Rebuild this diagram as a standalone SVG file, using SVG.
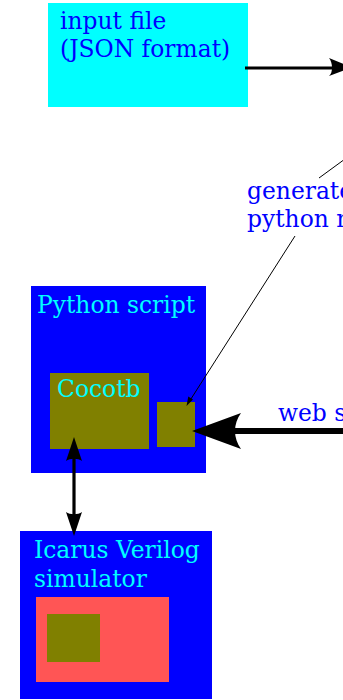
<svg xmlns="http://www.w3.org/2000/svg" width="343" height="700" viewBox="0 0 343 700">
<style>
text{font-family:"DejaVu Serif",serif;font-size:23.4px}
.lbl{fill:#0000ff}
.in{fill:#00ffff}
.ol{fill:#808000}
.conn{stroke:#000;fill:none}
</style>
<rect width="343" height="700" fill="#fff"/>
<g id="input">
<rect x="48" y="3" width="200" height="104" fill="#00ffff"/>
<text class="lbl" x="60" y="29">input file</text>
<text class="lbl" x="60" y="57">(JSON format)</text>
</g>
<g id="generated">
<text class="lbl" x="247" y="199">generated</text>
<text class="lbl" x="247" y="227">python module</text>
</g>
<g id="python">
<rect x="31" y="286" width="175" height="187" fill="#0000ff"/>
<text class="in" x="37" y="313">Python script</text>
</g>
<g id="cocotb">
<rect class="ol" x="50" y="373" width="99" height="76"/>
<text class="in" x="57" y="397">Cocotb</text>
</g>
<g id="module">
<rect class="ol" x="157" y="402" width="38" height="45"/>
</g>
<g id="websocket">
<text class="lbl" x="278" y="421">web socket</text>
</g>
<g id="icarus">
<rect x="20" y="531" width="192" height="168" fill="#0000ff"/>
<text class="in" x="34" y="558">Icarus Verilog</text>
<text class="in" x="34" y="587">simulator</text>
<rect x="36" y="597" width="133" height="85" fill="#ff5555"/>
<rect class="ol" x="47" y="614" width="53" height="48"/>
</g>
<g id="connectors">
<line class="conn" x1="245" y1="68" x2="333" y2="68" stroke-width="3.2"/>
<path d="M329,58 C333,63 333,73 329,76 L352,67.5 Z" fill="#000"/>
<line class="conn" x1="319" y1="178" x2="345" y2="159" stroke-width="1"/>
<line class="conn" x1="295" y1="236" x2="189" y2="402" stroke-width="1"/>
<path d="M186.5,406 L188.3,396.5 L193,399.5 Z" fill="#000"/>
<line class="conn" x1="343" y1="431" x2="225" y2="431" stroke-width="6"/>
<path d="M192,431 L241,413 C233,424 233,438 241,449 Z" fill="#000"/>
<line class="conn" x1="74" y1="455" x2="74" y2="518" stroke-width="3.2"/>
<path d="M74,437 L66,461 C70,458 78,458 82,461 Z" fill="#000"/>
<path d="M74,536 L66,512 C70,515 78,515 82,512 Z" fill="#000"/>
</g>
</svg>
